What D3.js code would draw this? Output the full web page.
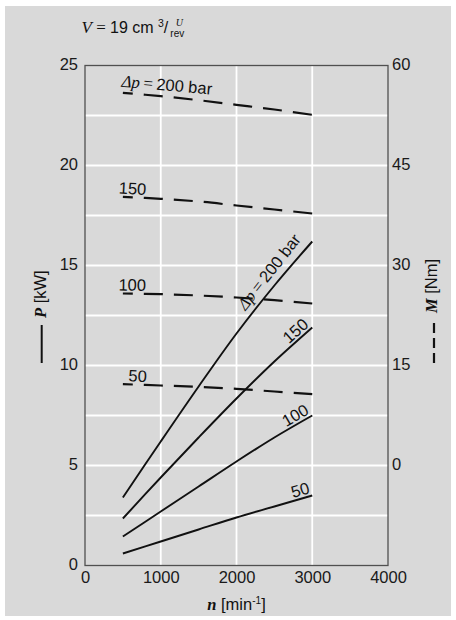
<!DOCTYPE html>
<html>
<head>
<meta charset="utf-8">
<script src="https://cdn.jsdelivr.net/npm/d3@7"></script>
<style>
  html, body { margin: 0; padding: 0; background: #ffffff; }
  svg { display: block; }
</style>
</head>
<body>
<svg id="chart" width="456" height="620"></svg>
<script>
// Motor speed samples (min^-1)
const speeds = [500, 1000, 1500, 2000, 2500, 3000];
// Pressure differences (bar)
const pressures = [50, 100, 150, 200];

// Output power P (kW) per pressure difference
const power50  = [0.6, 1.2, 1.8, 2.4, 2.95, 3.5];
const power100 = [1.45, 2.7, 3.95, 5.2, 6.4, 7.5];
const power150 = [2.35, 4.4, 6.4, 8.35, 10.2, 11.9];
const power200 = [3.4, 6.2, 8.95, 11.6, 14.0, 16.2];

// Output torque M (Nm) per pressure difference
const torque50  = [12.2, 12.0, 11.8, 11.5, 11.1, 10.7];
const torque100 = [25.8, 25.7, 25.5, 25.2, 24.8, 24.3];
const torque150 = [40.3, 40.0, 39.6, 39.0, 38.4, 37.8];
const torque200 = [55.9, 55.4, 54.8, 54.1, 53.4, 52.6];

// Axis ticks and grid
const speedTicks  = [0, 1000, 2000, 3000, 4000];
const powerTicks  = [0, 5, 10, 15, 20, 25];
const torqueTicks = [0, 15, 30, 45, 60];
const speedGrid   = [1000, 2000, 3000];
const powerGrid   = [2.5, 5, 7.5, 10, 12.5, 15, 17.5, 20, 22.5];

const SANS  = "'Liberation Sans', Arial, Helvetica, sans-serif";
const SERIF = "'Liberation Serif', 'Times New Roman', serif";

const powerSeries  = [power50, power100, power150, power200];
const torqueSeries = [torque50, torque100, torque150, torque200];

const svg = d3.select("#chart");

// Panel background
svg.append("rect")
  .attr("x", 5).attr("y", 6).attr("width", 446).attr("height", 610)
  .attr("fill", "#d9d9d9");

const plot = { left: 85, right: 388, top: 65.5, bottom: 565.5 };

const x  = d3.scaleLinear().domain([0, 4000]).range([plot.left, plot.right]);
const yP = d3.scaleLinear().domain([0, 25]).range([plot.bottom, plot.top]);
const yM = d3.scaleLinear().domain([-15, 60]).range([plot.bottom, plot.top]);

// White grid
const grid = svg.append("g").attr("stroke", "#ffffff").attr("stroke-width", 1.8);
grid.selectAll("line.v").data(speedGrid).join("line")
  .attr("x1", d => x(d)).attr("x2", d => x(d))
  .attr("y1", plot.top).attr("y2", plot.bottom);
grid.selectAll("line.h").data(powerGrid).join("line")
  .attr("x1", plot.left).attr("x2", plot.right)
  .attr("y1", d => yP(d)).attr("y2", d => yP(d));

// Axes (labels only; frame drawn separately)
function styleAxis(g) {
  g.select(".domain").remove();
  g.attr("font-family", SANS).attr("font-size", 16.5);
  g.selectAll("text").attr("fill", "#1a1a1a");
}
const fmt = d3.format("d");
svg.append("g").attr("transform", `translate(${plot.left},0)`)
  .call(d3.axisLeft(yP).tickValues(powerTicks).tickFormat(fmt).tickSize(0).tickPadding(7))
  .call(styleAxis)
  .selectAll("text").attr("y", -1.5);
svg.append("g").attr("transform", `translate(${plot.right},0)`)
  .call(d3.axisRight(yM).tickValues(torqueTicks).tickFormat(fmt).tickSize(0).tickPadding(4))
  .call(styleAxis)
  .selectAll("text").attr("y", -1);
svg.append("g").attr("transform", `translate(0,${plot.bottom})`)
  .call(d3.axisBottom(x).tickValues(speedTicks).tickFormat(fmt).tickSize(0).tickPadding(6))
  .call(styleAxis);

// Frame
svg.append("rect")
  .attr("x", plot.left).attr("y", plot.top)
  .attr("width", plot.right - plot.left).attr("height", plot.bottom - plot.top)
  .attr("fill", "none").attr("stroke", "#505050").attr("stroke-width", 1.3);

// Curves
const powerLine = d3.line().x((d, i) => x(speeds[i])).y(d => yP(d)).curve(d3.curveCatmullRom);
const torqueLine = d3.line().x((d, i) => x(speeds[i])).y(d => yM(d)).curve(d3.curveCatmullRom);

svg.append("g").selectAll("path").data(powerSeries).join("path")
  .attr("d", powerLine)
  .attr("fill", "none").attr("stroke", "#111").attr("stroke-width", 1.9);

svg.append("g").selectAll("path").data(torqueSeries).join("path")
  .attr("d", torqueLine)
  .attr("fill", "none").attr("stroke", "#111").attr("stroke-width", 2.2)
  .attr("stroke-dasharray", "19 11").attr("stroke-dashoffset", 9);

// Label helpers: position along a curve and local angle
function along(series, scaleY, n) {
  const f = d3.scaleLinear().domain(speeds).range(series);
  const px = x(n), py = scaleY(f(n));
  const a = Math.atan2(scaleY(f(n + 60)) - scaleY(f(n - 60)), x(n + 60) - x(n - 60));
  return { px, py, deg: a * 180 / Math.PI };
}

function pressureLabel(g, p) {
  if (p === 200) {
    g.append("tspan").attr("font-family", SERIF).attr("font-style", "italic").attr("font-size", 17).text("Δ");
    g.append("tspan").attr("font-family", SERIF).attr("font-style", "italic").attr("font-size", 17).text("p");
    g.append("tspan").attr("font-family", SERIF).attr("font-size", 17).text("\u2009=\u2009");
    g.append("tspan").attr("font-family", SANS).text("200 bar");
  } else {
    g.append("tspan").attr("font-family", SANS).text(String(p));
  }
}

// Power curve labels (along the lines, near their end / middle for 200 bar)
const powerLabelAt = { 50: 2990, 100: 2990, 150: 2990, 200: 2190 };
pressures.forEach((p, i) => {
  const s = along(powerSeries[i], yP, powerLabelAt[p]);
  const t = svg.append("text")
    .attr("transform", `translate(${s.px},${s.py}) rotate(${s.deg})`)
    .attr("y", p === 200 ? -7 : -3)
    .attr("text-anchor", p === 200 ? "start" : "end")
    .attr("font-size", 16.5).attr("fill", "#111");
  pressureLabel(t, p);
});

// Torque curve labels (at the start of the dashed lines)
const torqueLabelAt = { 50: 570, 100: 440, 150: 440, 200: 470 };
pressures.forEach((p, i) => {
  const n = torqueLabelAt[p];
  const s = along(torqueSeries[i], yM, Math.max(n, 560));
  const f = d3.scaleLinear().domain(speeds).range(torqueSeries[i]);
  const t = svg.append("text")
    .attr("transform", `translate(${x(n)},${yM(f(n))}) rotate(${s.deg})`)
    .attr("y", p === 200 ? -6 : -3)
    .attr("font-size", 16.5).attr("fill", "#111");
  pressureLabel(t, p);
});

// Axis titles with line-style keys
const leftTitle = svg.append("text")
  .attr("transform", "translate(46,318) rotate(-90)")
  .attr("font-size", 16.5).attr("fill", "#111");
leftTitle.append("tspan").attr("font-family", SERIF).attr("font-style", "italic").attr("font-weight", "bold").text("P");
leftTitle.append("tspan").attr("font-family", SANS).text(" [kW]");
svg.append("line").attr("x1", 41.7).attr("x2", 41.7).attr("y1", 325).attr("y2", 363)
  .attr("stroke", "#111").attr("stroke-width", 2);

const rightTitle = svg.append("text")
  .attr("transform", "translate(436.5,313) rotate(-90)")
  .attr("font-size", 16.5).attr("fill", "#111");
rightTitle.append("tspan").attr("font-family", SERIF).attr("font-style", "italic").attr("font-weight", "bold").text("M");
rightTitle.append("tspan").attr("font-family", SANS).text(" [Nm]");
svg.append("line").attr("x1", 434).attr("x2", 434).attr("y1", 323).attr("y2", 363)
  .attr("stroke", "#111").attr("stroke-width", 2.2).attr("stroke-dasharray", "10 5");

const bottomTitle = svg.append("text")
  .attr("x", (plot.left + plot.right) / 2).attr("y", 610)
  .attr("text-anchor", "middle").attr("font-size", 16.5).attr("fill", "#111");
bottomTitle.append("tspan").attr("font-family", SERIF).attr("font-style", "italic").attr("font-weight", "bold").text("n");
bottomTitle.append("tspan").attr("font-family", SANS).text(" [min");
bottomTitle.append("tspan").attr("font-family", SANS).attr("font-size", 10).attr("dy", -6).text("-1");
bottomTitle.append("tspan").attr("font-family", SANS).attr("dy", 6).text("]");

// Displacement note
const title = svg.append("text").attr("x", 81.5).attr("y", 33.3).attr("font-size", 16).attr("fill", "#111");
title.append("tspan").attr("font-family", SERIF).attr("font-style", "italic").attr("font-size", 17).text("V");
title.append("tspan").attr("font-family", SERIF).attr("font-size", 17).text(" = ");
title.append("tspan").attr("font-family", SANS).text("19 cm ");
title.append("tspan").attr("font-family", SANS).attr("font-size", 10.5).attr("dy", -6).text("3");
title.append("tspan").attr("font-family", SANS).attr("dy", 6).text("/");
const endX = 81.5 + title.node().getComputedTextLength();
svg.append("text").attr("x", endX + 11).attr("y", 25.5).attr("text-anchor", "middle")
  .attr("font-family", SERIF).attr("font-style", "italic").attr("font-size", 10).attr("fill", "#111").text("U");
svg.append("text").attr("x", endX + 9).attr("y", 37).attr("text-anchor", "middle")
  .attr("font-family", SANS).attr("font-size", 10).attr("fill", "#111").text("rev");
</script>
</body>
</html>
